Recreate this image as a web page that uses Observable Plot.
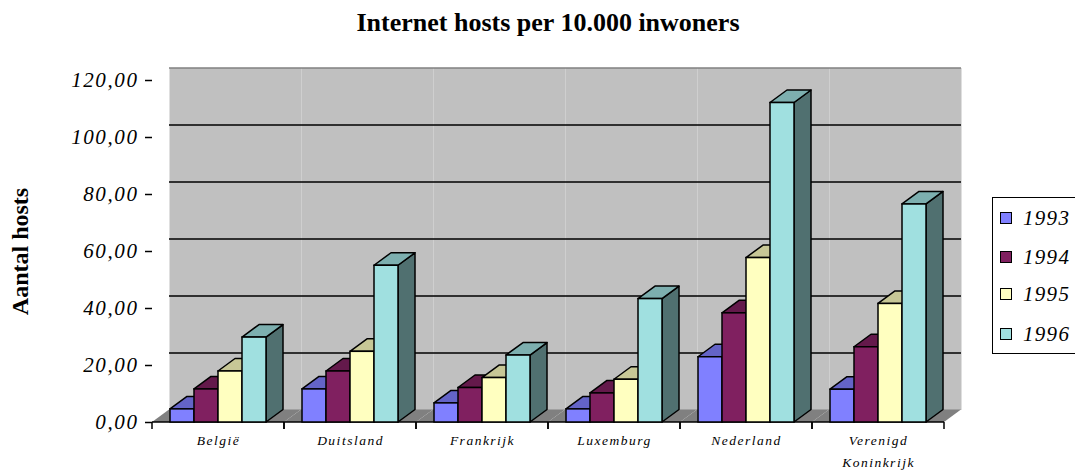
<!DOCTYPE html>
<html><head><meta charset="utf-8">
<script src="https://cdn.jsdelivr.net/npm/d3@7"></script>
<script src="https://cdn.jsdelivr.net/npm/@observablehq/plot@0.6"></script>
<style>
body{margin:0;background:#fff;width:1075px;height:472px;overflow:hidden;position:relative;font-family:"Liberation Serif","Times New Roman",serif}
#title{position:absolute;top:7px;left:0;width:1096px;text-align:center;font-weight:bold;font-size:26px;line-height:32px}
#chart{position:absolute;top:40px;left:0}
#legend{position:absolute;left:992px;top:197px;width:110px;height:155px;border:1px solid #000;background:#fff}
.item{position:absolute;left:7px;height:26px;display:flex;align-items:center}
.sw{width:12px;height:12px;border:1px solid #000;margin-right:11px;box-sizing:border-box}
.lab{font-style:italic;font-size:21px;letter-spacing:1.3px;font-family:"Liberation Serif",serif}
#chart svg text{font-family:"Liberation Serif","Times New Roman",serif}
#chart svg [aria-label="y-axis tick label"] text{letter-spacing:1.6px;font-style:italic;font-size:21px}
#chart svg [aria-label="fx-axis tick label"] text{letter-spacing:1.5px;font-style:italic;font-size:13.5px}
#chart svg [aria-label="y-axis label"] text{font-weight:bold;font-style:normal;font-size:24px;letter-spacing:0}
</style></head>
<body>
<div id="title">Internet hosts per 10.000 inwoners</div>
<div id="chart"></div>
<div id="legend"></div>
<script>
const countries = ["België", "Duitsland", "Frankrijk", "Luxemburg", "Nederland", "Verenigd Koninkrijk"];
const years = ["1993", "1994", "1995", "1996"];
const v1993 = [4.6, 11.6, 6.7, 4.6, 22.9, 11.5];
const v1994 = [11.6, 17.9, 12.1, 10.2, 38.3, 26.4];
const v1995 = [17.9, 24.8, 15.6, 15.0, 57.7, 41.6];
const v1996 = [29.8, 55.0, 23.5, 43.3, 112.1, 76.5];
const yTicks = [0, 20, 40, 60, 80, 100, 120];
const colors = ["#8080FF", "#802060", "#FFFFC0", "#A0E0E0"];

const series = [v1993, v1994, v1995, v1996];
const data = countries.flatMap((c, i) => years.map((y, j) => ({country: c, year: y, value: series[j][i]})));

const DX = 17, DY = -12.5;
const NS = "http://www.w3.org/2000/svg";
function el(tag, attrs) { const e = document.createElementNS(NS, tag); for (const k in attrs) e.setAttribute(k, attrs[k]); return e; }
function pts(a) { return a.map(p => p.join(",")).join(" "); }
function shade(c, k) { const r = d3.rgb(c); return d3.rgb(r.r * k, r.g * k, r.b * k).formatHex(); }

function bars3d(index, scales, values, dimensions, context, next) {
  const g = next(index, scales, values, dimensions, context);
  const bw = scales.x.bandwidth();
  const sides = [], tops = [];
  for (const i of index) {
    const xa = values.x[i], xb = xa + bw;
    const yt = Math.min(values.y1[i], values.y2[i]);
    const yb = Math.max(values.y1[i], values.y2[i]);
    const c = values.fill[i];
    const common = {stroke: "black", "stroke-width": 1.5, "stroke-linejoin": "round"};
    sides.push(el("polygon", {points: pts([[xb, yt], [xb + DX, yt + DY], [xb + DX, yb + DY], [xb, yb]]), fill: shade(c, 0.5), ...common}));
    tops.push(el("polygon", {points: pts([[xa, yt], [xb, yt], [xb + DX, yt + DY], [xa + DX, yt + DY]]), fill: shade(c, 0.78), ...common}));
  }
  const frag = document.createDocumentFragment();
  [...sides, ...tops].forEach(p => frag.appendChild(p));
  g.insertBefore(frag, g.firstChild);
  return g;
}

function floorRender(index, scales) {
  const [x0, x1] = scales.x.range();
  const y0 = scales.y(0);
  const g = el("g", {});
  g.appendChild(el("polygon", {points: pts([[x0, y0], [x1, y0], [x1 + DX, y0 + DY], [x0 + DX, y0 + DY]]), fill: "#808080"}));
  g.appendChild(el("line", {x1: x0, x2: x1, y1: y0, y2: y0, stroke: "black", "stroke-width": 1.5}));
  for (const x of [x0, x1]) g.appendChild(el("line", {x1: x, x2: x, y1: y0, y2: y0 + 7, stroke: "black", "stroke-width": 1.5}));
  return g;
}

function leftWall(index, scales) {
  if (!index.length) return null;
  const [x0] = scales.x.range();
  const y0 = scales.y(0), yT = scales.y(120);
  const g = el("g", {});
  g.appendChild(el("polygon", {points: pts([[x0, y0], [x0, yT], [x0 + DX, yT + DY], [x0 + DX, y0 + DY]]), fill: "#C0C0C0"}));
  for (const v of yTicks.slice(1, -1)) {
    const y = scales.y(v);
    g.appendChild(el("line", {x1: x0, y1: y, x2: x0 + DX, y2: y + DY, stroke: "black", "stroke-width": 1.5}));
  }
  g.appendChild(el("line", {x1: x0, y1: yT, x2: x0 + DX, y2: yT + DY, stroke: "#808080", "stroke-width": 1.5}));
  g.appendChild(el("line", {x1: x0, y1: y0, x2: x0 + DX, y2: y0 + DY, stroke: "#808080", "stroke-width": 1}));
  g.appendChild(el("line", {x1: x0 + DX, y1: y0 + DY, x2: x0 + DX, y2: yT + DY, stroke: "#808080", "stroke-width": 1.5}));
  g.appendChild(el("line", {x1: x0, y1: y0, x2: x0, y2: yT, stroke: "black", "stroke-width": 1.5}));
  return g;
}

function rightEnd(index, scales) {
  if (!index.length) return null;
  const [, x1] = scales.x.range();
  const y0 = scales.y(0), yT = scales.y(120);
  const g = el("g", {});
  g.appendChild(el("line", {x1: x1 + DX, y1: y0 + DY, x2: x1 + DX, y2: yT + DY, stroke: "#808080", "stroke-width": 1.5}));
  g.appendChild(el("line", {x1: x1, y1: y0, x2: x1 + DX, y2: y0 + DY, stroke: "black", "stroke-width": 1.5}));
  return g;
}

const chart = Plot.plot({
  width: 1075,
  height: 432,
  marginLeft: 152,
  marginRight: 131,
  marginTop: 40,
  marginBottom: 50,
  style: {background: "transparent", overflow: "visible", fontFamily: "Liberation Serif"},
  fx: {domain: countries, padding: 0, label: null},
  x: {domain: years, paddingInner: 0, paddingOuter: 0.75, axis: null},
  y: {domain: [0, 120]},
  color: {domain: years, range: colors},
  marks: [
    Plot.frame({fill: "#C0C0C0", stroke: "none", dx: DX, dy: DY}),
    Plot.ruleY(yTicks.slice(1, -1), {stroke: "black", strokeWidth: 1.5, dx: DX, dy: DY}),
    Plot.ruleY([120], {stroke: "#808080", strokeWidth: 1.5, dx: DX, dy: DY}),
    Plot.frame({render: floorRender}),
    Plot.dot([countries[0]], {fx: d => d, render: leftWall}),
    Plot.dot([countries[countries.length - 1]], {fx: d => d, render: rightEnd}),
    Plot.barY(data, {fx: "country", x: "year", y: "value", fill: "year", stroke: "black", strokeWidth: 1.5, render: bars3d}),
    Plot.axisY({ticks: yTicks, tickFormat: d => d.toFixed(2).replace(".", ","), tickSize: 7, tickPadding: 7, strokeWidth: 1.5,
      fontSize: 21, fontStyle: "italic",
      label: "Aantal hosts", labelArrow: "none", labelAnchor: "center", labelOffset: 142}),
    Plot.axisFx({anchor: "bottom", tickSize: 0, tickPadding: 7, fontSize: 13.5, fontStyle: "italic",
      label: null, lineHeight: 1.63,
      tickFormat: d => d.replace(" ", "\n")})
  ]
});
document.getElementById("chart").appendChild(chart);

const legend = document.getElementById("legend");
const rowCenters = [20, 59, 96, 136];
years.forEach((y, j) => {
  const item = document.createElement("div");
  item.className = "item";
  item.style.top = (rowCenters[j] - 13) + "px";
  const sw = document.createElement("div");
  sw.className = "sw";
  sw.style.background = colors[j];
  const lab = document.createElement("span");
  lab.className = "lab";
  lab.textContent = y;
  item.appendChild(sw);
  item.appendChild(lab);
  legend.appendChild(item);
});
</script>
</body></html>
